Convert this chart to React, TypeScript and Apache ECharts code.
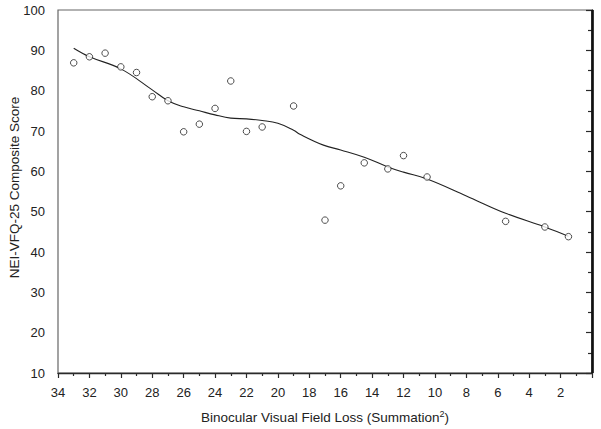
import React, { useEffect, useRef } from "react";
import * as echarts from "echarts";

const lossX = [33, 32, 31, 30, 29, 28, 27, 26, 25, 24, 23, 22, 21, 19, 17, 16, 14.5, 13, 12, 10.5, 5.5, 3, 1.5];
const scoreY = [86.9, 88.4, 89.3, 85.9, 84.5, 78.5, 77.5, 69.8, 71.7, 75.6, 82.4, 69.9, 71.0, 76.2, 47.9, 56.4, 62.1, 60.6, 63.9, 58.6, 47.6, 46.2, 43.8];

const fitX = [33, 32, 30, 28, 27, 26, 25, 24, 23, 22, 21, 20, 19, 18.6, 17.1, 16, 14.5, 13, 12, 10.5, 8, 5.5, 3, 1.5];
const fitY = [90.5, 88.4, 85.4, 80.2, 77.5, 76.0, 75.0, 74.0, 73.2, 73.0, 72.6, 71.9, 70.2, 69.2, 66.5, 65.3, 63.5, 61.1, 59.8, 58.1, 53.9, 49.6, 46.2, 43.9];

const xTicks = { min: 0, max: 34, interval: 2 };
const yTicks = { min: 10, max: 100, interval: 10 };

export default function App() {
  const ref = useRef<HTMLDivElement>(null);
  useEffect(() => {
    if (!ref.current) return;
    const chart = echarts.init(ref.current, null, { renderer: "svg" });
    const font = "'Liberation Sans', Arial, sans-serif";
    const axisColor = "#2a2a2a";
    chart.setOption({
      animation: false,
      backgroundColor: "#fff",
      grid: {
        left: 58,
        right: 9,
        top: 10,
        bottom: 56,
        containLabel: false,
        outerBoundsMode: "none",
        show: true,
        borderColor: "#666",
        borderWidth: 1.2,
      },
      xAxis: {
        type: "value",
        inverse: true,
        min: xTicks.min,
        max: xTicks.max,
        interval: xTicks.interval,
        name: "Binocular Visual Field Loss (Summation{sup|2})",
        nameLocation: "middle",
        nameGap: 36,
        nameMoveOverlap: false,
        nameTextStyle: {
          fontFamily: font,
          fontSize: 13.5,
          color: "#222",
          rich: {
            sup: { fontSize: 9, fontFamily: font, color: "#222", padding: [0, 0, 8, 0] },
          },
        },
        axisLine: { show: true, lineStyle: { color: axisColor, width: 1.4 } },
        axisTick: { show: true, inside: false, length: 5, lineStyle: { color: axisColor, width: 1.2 } },
        minorTick: { show: true, splitNumber: 2, length: 3, lineStyle: { color: axisColor, width: 1.2 } },
        splitLine: { show: false },
        axisLabel: {
          margin: 13,
          fontFamily: font,
          fontSize: 13,
          color: "#222",
          formatter: (v: number) => (v === 0 ? "" : String(v)),
        },
      },
      yAxis: {
        type: "value",
        min: yTicks.min,
        max: yTicks.max,
        interval: yTicks.interval,
        name: "NEI-VFQ-25 Composite Score",
        nameLocation: "middle",
        nameGap: 37,
        nameMoveOverlap: false,
        nameTextStyle: { fontFamily: font, fontSize: 13.5, color: "#222", padding: [0, 0, 0, 8] },
        axisLine: { show: true, lineStyle: { color: axisColor, width: 1.4 } },
        axisTick: { show: true, inside: false, length: 6, lineStyle: { color: axisColor, width: 1.2 } },
        minorTick: { show: true, splitNumber: 2, length: 4, lineStyle: { color: axisColor, width: 1.2 } },
        splitLine: { show: false },
        axisLabel: { margin: 13, fontFamily: font, fontSize: 13, color: "#222" },
      },
      series: [
        {
          type: "line",
          data: fitX.map((x, i) => [x, fitY[i]]),
          smooth: 0.4,
          showSymbol: false,
          symbol: "none",
          lineStyle: { color: "#222", width: 1.1 },
          z: 2,
        },
        {
          type: "scatter",
          data: lossX.map((x, i) => [x, scoreY[i]]),
          symbol: "circle",
          symbolSize: 6.5,
          itemStyle: { color: "#fff", borderColor: "#222", borderWidth: 1 },
          z: 3,
          markLine: {
            silent: true,
            symbol: "none",
            label: { show: false },
            lineStyle: { color: "#111", width: 2.6, type: "solid" },
            data: [{ xAxis: xTicks.min }],
          },
        },
      ],
    });
    return () => chart.dispose();
  }, []);
  return (
    <div
      ref={ref}
      style={{ position: "fixed", left: 0, top: 0, width: 601, height: 429, background: "#fff" }}
    />
  );
}
